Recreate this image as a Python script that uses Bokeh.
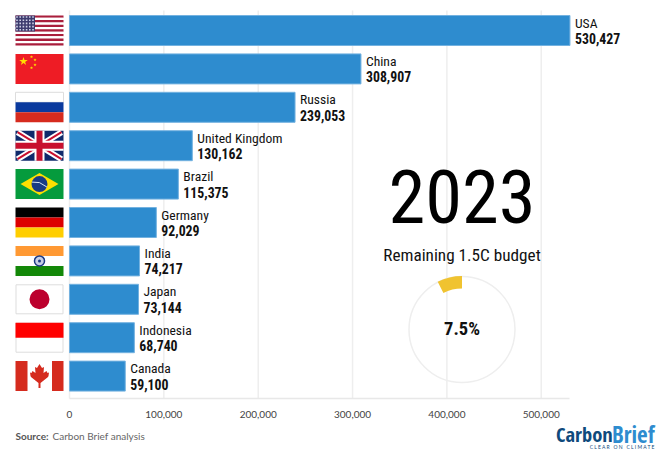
from bokeh.plotting import figure
from bokeh.models import Range1d, LinearAxis, FixedTicker, NumeralTickFormatter, ColumnDataSource
from bokeh.core.properties import value
from bokeh.embed import file_html
from bokeh.resources import INLINE
import math

countries = ["USA","China","Russia","United Kingdom","Brazil","Germany","India","Japan","Indonesia","Canada"]
emissions = [530427,308907,239053,130162,115375,92029,74217,73144,68740,59100]
tick_values = [0,100000,200000,300000,400000,500000]
year_label = "2023"
budget_title = "Remaining 1.5C budget"
budget_pct = 7.5
source_bold = "Source:"
source_text = "Carbon Brief analysis"

W, H = 658, 450
NARROW = "Roboto Condensed"
PX_PER_UNIT = 94.35/100000
X0, Y0, STEP = 69.0, 30.0, 38.4

p = figure(width=W, height=H, output_backend="svg", toolbar_location=None,
           x_axis_type=None, y_axis_type=None, min_border=0,
           x_range=Range1d((0-X0)/PX_PER_UNIT, (W-X0)/PX_PER_UNIT),
           y_range=Range1d((H-Y0)/STEP, (0-Y0)/STEP))
p.outline_line_color = None
p.background_fill_color = "white"
p.extra_x_ranges = {"px": Range1d(0, W)}
p.extra_y_ranges = {"px": Range1d(H, 0)}
PX = dict(x_range_name="px", y_range_name="px")

AXIS_ROW = (398-Y0)/STEP
TOP_ROW = (10-Y0)/STEP

# grid
p.segment(x0=tick_values, x1=tick_values, y0=[TOP_ROW]*6, y1=[AXIS_ROW]*6, line_color="#eeeeee", line_width=1.5)

# axis
ax = LinearAxis(ticker=FixedTicker(ticks=tick_values), formatter=NumeralTickFormatter(format="0,0"),
                fixed_location=AXIS_ROW, bounds=(0, emissions[0]))
ax.axis_line_color = "#e8e8e8"
ax.axis_line_width = 1.5
ax.major_tick_line_color = None
ax.minor_tick_line_color = None
ax.major_label_text_font = "Lato"
ax.major_label_text_font_size = "10px"
ax.major_label_text_color = "#444444"
ax.major_label_standoff = 6
p.add_layout(ax, "below")

# bars
rows = list(range(len(countries)))
p.hbar(y=rows, right=emissions, left=0, height=30/STEP, fill_color="#2e8ccf", line_color="#74b2e0", line_width=1)

# bar labels
p.text(x=emissions, y=rows, text=countries, x_offset=5, y_offset=-8, text_font=value(NARROW),
       text_font_size="13.6px", text_color="#111111", text_align="left", text_baseline="middle")
p.text(x=emissions, y=rows, text=[f"{v:,}" for v in emissions], x_offset=5, y_offset=8, text_font=value(NARROW),
       text_font_style="bold", text_font_size="13.8px", text_color="#111111", text_align="left", text_baseline="middle")

# flags
def rect(x0, x1, y0, y1, c, line=None):
    p.quad(left=x0, right=x1, top=y0, bottom=y1, fill_color=c, line_color=line, **PX)
def poly(xs, ys, c):
    p.patch(xs, ys, fill_color=c, line_color=None, **PX)

L, R = 15, 63
def top(i): return Y0 + STEP*i - 15

# USA
t = top(0)
for s in range(13):
    rect(L, R, t+s*30/13, t+(s+1)*30/13, "#a91e3c" if s % 2 == 0 else "#ffffff")
rect(L, 34.5, t, t+16, "#3c3b6e")
sx = [L+1.5+i*3.2 for i in range(6) for j in range(5)]
sy = [t+1.5+j*3.2 for i in range(6) for j in range(5)]
p.scatter(sx, sy, size=1.6, marker="square", fill_color="#cfd0e6", line_color=None, **PX)

# China
t = top(1)
rect(L, R, t, t+30, "#ee1c25")
p.scatter([23], [t+7.5], size=9, marker="star", fill_color="#ffde00", line_color=None, **PX)
p.scatter([31,34.5,34.5,31], [t+3,t+6,t+11,t+14], size=3.5, marker="star", fill_color="#ffde00", line_color=None, **PX)

# Russia
t = top(2)
rect(L, R, t, t+10, "#ffffff", "#dddddd")
rect(L, R, t+10, t+20, "#0a3a9e")
rect(L, R, t+20, t+30, "#d62b1e")

# UK
t = top(3)
rect(L, R, t, t+30, "#0f2a6b")
def diag(x0, y0, x1, y1, w, c):
    dx, dy = x1-x0, y1-y0
    n = math.hypot(dx, dy)
    ox, oy = -dy/n*w/2, dx/n*w/2
    poly([x0+ox, x1+ox, x1-ox, x0-ox], [y0+oy, y1+oy, y1-oy, y0-oy], c)
for (a, b, c, d) in [(L+2, t+1.5, R-2, t+28.5), (L+2, t+28.5, R-2, t+1.5)]:
    diag(a, b, c, d, 6, "#ffffff")
    diag(a, b, c, d, 2, "#c8102e")
rect(L, R, t+10, t+20, "#ffffff")
rect(34, 44, t, t+30, "#ffffff")
rect(L, R, t+12, t+18, "#c8102e")
rect(36, 42, t, t+30, "#c8102e")

# Brazil
t = top(4)
rect(L, R, t, t+30, "#059b3d")
poly([20, 39, 58, 39], [t+15, t+4, t+15, t+26], "#fedf00")
p.circle([39], [t+15], radius=8, fill_color="#1a3b84", line_color=None, **PX)
p.line([31.5, 39, 46.5], [t+13, t+13.5, t+18], line_color="#d8e4f2", line_width=1, **PX)

# Germany
t = top(5)
rect(L, R, t, t+10, "#000000")
rect(L, R, t+10, t+20, "#dd0000")
rect(L, R, t+20, t+30, "#ffce00")

# India
t = top(6)
rect(L, R, t, t+10, "#ff9933")
rect(L, R, t+10, t+20, "#ffffff")
rect(L, R, t+20, t+30, "#138808")
p.circle([39], [t+15], radius=5, fill_color="#c7cfe6", line_color="#1c3a85", line_width=1.5, **PX)
p.circle([39], [t+15], radius=1.5, fill_color="#1c3a85", line_color=None, **PX)

# Japan
t = top(7)
rect(L+.5, R-.5, t+.5, t+29.5, "#ffffff", "#dddddd")
p.circle([39], [t+15], radius=10, fill_color="#bc002d", line_color=None, **PX)

# Indonesia
t = top(8)
rect(L+.5, R-.5, t+.5, t+29.5, "#ffffff", "#dddddd")
rect(L, R, t, t+15, "#ff0000")

# Canada
t = top(9)
rect(L, R, t, t+30, "#ffffff")
rect(L, 27, t, t+30, "#d52b1e")
rect(51.5, R, t, t+30, "#d52b1e")
leaf_x = [39,41.5,43.5,43,46,47,48.5,48,47.5,40,40,38,38,30.5,30,29.5,31,32,35,34.5,36.5]
leaf_y = [3,7,6,12,10,12,11.5,15,16,22,27,27,22,16,15,11.5,12,10,12,6,7]
poly(leaf_x, [t+v for v in leaf_y], "#d52b1e")

# year + title
p.text([461.5], [196], text=[year_label], text_font=value(NARROW), text_font_size="74.5px", text_color="#000000",
       text_align="center", text_baseline="middle", **PX)
p.text([461.5], [254], text=[budget_title], text_font=value(NARROW), text_font_size="17.2px", text_color="#111111",
       text_align="center", text_baseline="middle", **PX)

# donut
CX, CY = 461.5, 329
p.circle([CX], [CY], radius=53, fill_color=None, line_color="#eeeeee", line_width=1.5, **PX)
sweep = budget_pct/100*2*math.pi
src = ColumnDataSource(dict(x=[CX], y=[CY]))
p.annular_wedge("x", "y", source=src, inner_radius=41, outer_radius=53.5,
                start_angle=math.pi/2, end_angle=math.pi/2+sweep, direction="anticlock",
                fill_color="#f0c330", line_color=None, **PX)
p.text([CX], [CY-1], text=[f"{budget_pct}%"], text_font=value(NARROW), text_font_style="bold", text_font_size="18.5px",
       text_color="#111111", text_align="center", text_baseline="middle", **PX)

# source
p.text([15], [435], text=[source_bold], text_font=value("Lato"), text_font_style="bold", text_font_size="10px",
       text_color="#555555", text_align="left", text_baseline="middle", **PX)
p.text([52], [435], text=[source_text], text_font=value("Lato"), text_font_size="10px",
       text_color="#666666", text_align="left", text_baseline="middle", **PX)

# logo
p.text([555.5], [433], text=["Carbon"], text_font=value("Open Sans Condensed"), text_font_style="bold", text_font_size="20.5px",
       text_color="#0f4a7c", text_align="left", text_baseline="middle", **PX)
p.text([654], [433], text=["Brief"], text_font=value("Open Sans Condensed"), text_font_style="bold", text_font_size="23px",
       text_color="#2e8ccf", text_align="right", text_baseline="middle", **PX)
p.text([654], [446.5], text=["C\u00a0L\u00a0E\u00a0A\u00a0R\u00a0\u00a0\u00a0O\u00a0N\u00a0\u00a0\u00a0C\u00a0L\u00a0I\u00a0M\u00a0A\u00a0T\u00a0E"],
       text_font=value("Lato"), text_font_size="5px", text_color="#0f4a7c", text_align="right", text_baseline="middle", **PX)

open("out.html", "w").write(file_html(p, INLINE))
